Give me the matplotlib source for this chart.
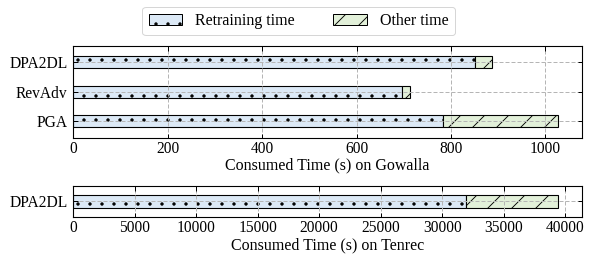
import matplotlib
import matplotlib.pyplot as plt
from matplotlib.patches import Patch

matplotlib.use("Agg")

plt.rcParams["font.family"] = ["Liberation Serif", "DejaVu Serif"]
plt.rcParams["hatch.linewidth"] = 0.9

# Gowalla (top panel)
gowalla_methods = ["PGA", "RevAdv", "DPA2DL"]
gowalla_retrain = [783, 697, 850]
gowalla_other = [243, 16, 36]

# Tenrec (bottom panel)
tenrec_methods = ["DPA2DL"]
tenrec_retrain = [31950]
tenrec_other = [7450]

gowalla_ticks = [0, 200, 400, 600, 800, 1000]
tenrec_ticks = [0, 5000, 10000, 15000, 20000, 25000, 30000, 35000, 40000]

BLUE = "#dce9f6"
GREEN = "#e2f0d9"
BAR_H = 0.4
DPI = 72  # hatch density follows dpi, 72 gives the finer pattern of the original


def draw_panel(ax, methods, retrain, other, ticks, xlabel):
    y = range(len(methods))
    ax.barh(y, retrain, height=BAR_H, color=BLUE, edgecolor="black",
            linewidth=1.1, hatch=".")
    ax.barh(y, other, left=retrain, height=BAR_H, color=GREEN,
            edgecolor="black", linewidth=1.1, hatch="/")
    ax.set_yticks(list(y))
    ax.set_yticklabels(methods, fontsize=15.5)
    ax.set_xticks(ticks)
    ax.set_xticklabels([str(t) for t in ticks], fontsize=15.5)
    ax.set_xlabel(xlabel, fontsize=16, labelpad=1)
    ax.grid(True, linestyle="--", color="#b5b5b5", linewidth=1.0,
            dashes=(4, 2))
    ax.tick_params(direction="in", top=True, right=True, length=4.5,
                   width=1.0, pad=3)
    ax.tick_params(axis="y", pad=6)
    for sp in ax.spines.values():
        sp.set_linewidth(1.1)
    total = max(r + o for r, o in zip(retrain, other))
    ax.set_xlim(0, total * 1.05)


fig = plt.figure(figsize=(589 / DPI, 254 / DPI), dpi=DPI)
ax_top = fig.add_axes([0.1245, 0.458, 0.8635, 0.361])
ax_bot = fig.add_axes([0.1245, 0.1457, 0.8635, 0.1235])

draw_panel(ax_top, gowalla_methods, gowalla_retrain, gowalla_other,
           gowalla_ticks, "Consumed Time (s) on Gowalla")
ax_top.set_ylim(-0.55, 2.55)

draw_panel(ax_bot, tenrec_methods, tenrec_retrain, tenrec_other,
           tenrec_ticks, "Consumed Time (s) on Tenrec")
ax_bot.set_ylim(-0.47, 0.47)

handles = [
    Patch(facecolor=BLUE, edgecolor="black", hatch=".", label="Retraining time"),
    Patch(facecolor=GREEN, edgecolor="black", hatch="/", label="Other time"),
]
fig.legend(handles=handles, loc="center", bbox_to_anchor=(0.507, 0.917),
           ncol=2, fontsize=16, handlelength=2.1, handleheight=0.7,
           columnspacing=2.4, handletextpad=0.8, borderpad=0.4,
           edgecolor="#cccccc")

fig.savefig("out.png", dpi=DPI)
